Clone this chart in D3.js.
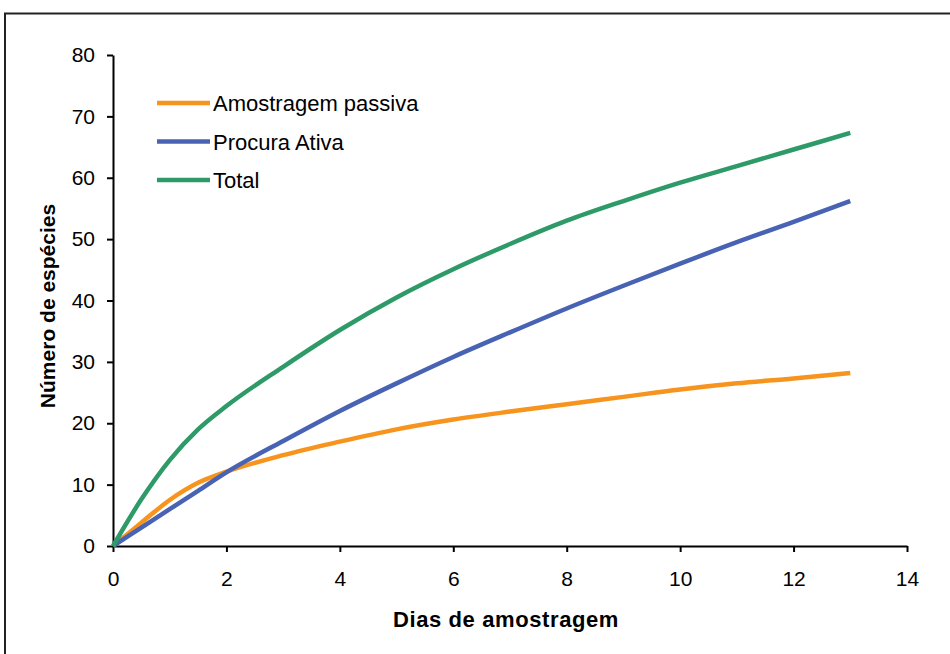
<!DOCTYPE html>
<html><head><meta charset="utf-8">
<script src="https://cdn.jsdelivr.net/npm/d3@7"></script>
<style>body{margin:0;background:#fff}svg{display:block}</style>
</head><body>
<svg id="c" width="950" height="654"></svg>
<script>
const days    = [0,0.5,1,1.5,2,3,4,5,6,7,8,9,10,11,12,13];
const passiva = [0,3.8,7.5,10.3,12.1,14.8,17.0,19.0,20.6,21.9,23.1,24.3,25.5,26.5,27.3,28.2];
const ativa   = [0,3.0,6.0,9.0,12.0,17.1,22.0,26.5,30.8,34.8,38.7,42.4,46.0,49.5,52.8,56.2];
const total   = [0,7.6,14.0,19.0,22.8,29.2,35.2,40.5,45.1,49.2,53.0,56.2,59.2,61.9,64.6,67.3];
const seriesNames = ["Amostragem passiva","Procura Ativa","Total"];
const seriesColors = ["#f7941d","#4863b4","#2e9a68"];
const xTicks = [0,2,4,6,8,10,12,14];
const yTicks = [0,10,20,30,40,50,60,70,80];

const svg = d3.select("#c");
const font = "'Liberation Sans', Arial, sans-serif";
svg.append("rect").attr("x",5).attr("y",13.5).attr("width",960).attr("height",700)
  .attr("fill","none").attr("stroke","#222").attr("stroke-width",2);

const x = d3.scaleLinear().domain([0,14]).range([113,907]);
const y = d3.scaleLinear().domain([0,80]).range([546,55]);

const xa = svg.append("g").attr("transform","translate(0,546)")
  .call(d3.axisBottom(x).tickValues(xTicks).tickSize(6).tickSizeOuter(0).tickPadding(19));
const ya = svg.append("g").attr("transform","translate(113,0)")
  .call(d3.axisLeft(y).tickValues(yTicks).tickSize(6).tickSizeOuter(0).tickPadding(12));
[xa,ya].forEach(a=>{
  a.select(".domain").attr("stroke","#000").attr("stroke-width",2);
  a.selectAll(".tick line").attr("stroke","#000").attr("stroke-width",2);
  a.selectAll(".tick text").attr("fill","#000").style("font-family",font).style("font-size","21px");
});

const line = d3.line().x((d,i)=>x(days[i])).y(d=>y(d)).curve(d3.curveMonotoneX);
[passiva,ativa,total].forEach((s,k)=>{
  svg.append("path").datum(s).attr("d",line).attr("fill","none")
    .attr("stroke",seriesColors[k]).attr("stroke-width",4.5).attr("stroke-linecap","butt");
});

const lg = svg.append("g");
seriesNames.forEach((n,k)=>{
  const yy = 103 + k*38.5;
  lg.append("line").attr("x1",157).attr("x2",210).attr("y1",yy).attr("y2",yy)
    .attr("stroke",seriesColors[k]).attr("stroke-width",4.5);
  lg.append("text").attr("x",213).attr("y",yy+8).text(n)
    .style("font-family",font).style("font-size","22px").attr("fill","#000");
});

svg.append("text").attr("x",506).attr("y",627).attr("text-anchor","middle")
  .style("font-family",font).style("font-size","22px").style("font-weight","bold")
  .style("letter-spacing","0.6px").text("Dias de amostragem");
svg.append("text").attr("transform","translate(55,306) rotate(-90)").attr("text-anchor","middle")
  .style("font-family",font).style("font-size","21px").style("font-weight","bold").text("Número de espécies");
</script>
</body></html>
